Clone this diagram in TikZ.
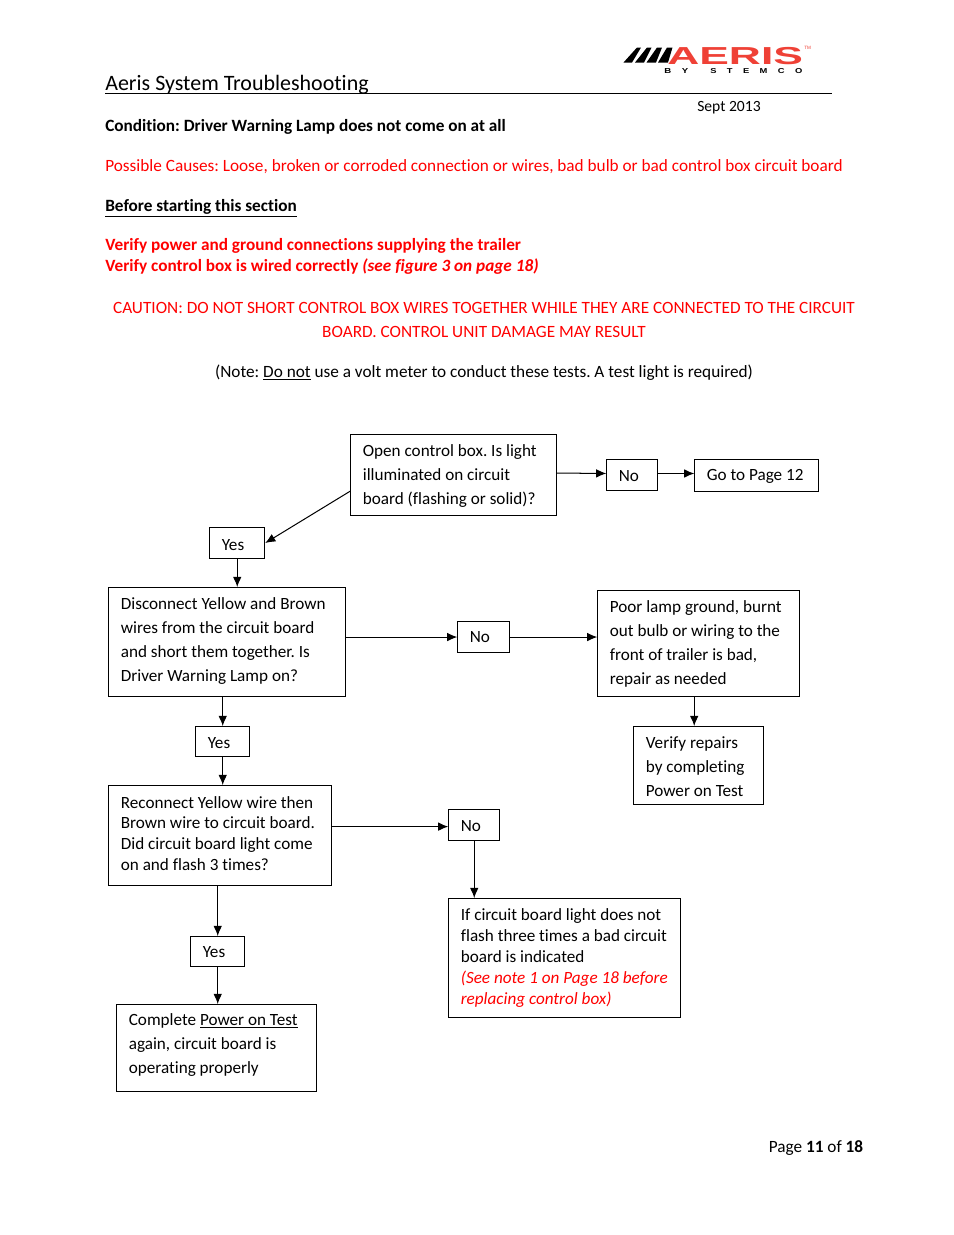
\documentclass[tikz,border=0pt]{standalone}
\usepackage{fontspec}
\setmainfont{Carlito}[Ligatures=NoCommon]
\newfontfamily\logofont{Liberation Sans}
\usetikzlibrary{arrows}
\usetikzlibrary{arrows.meta}
\def\px{0.6415pt}
\definecolor{logored}{HTML}{EF4136}
\tikzset{
  every node/.style={font=\fontsize{11.05}{14}\selectfont\frenchspacing},
  flowbox/.style 2 args={draw=black,line width=0.7pt,anchor=north west,align=left,xshift=-0.45pt,
    font=\fontsize{11}{14}\selectfont\frenchspacing,
    execute at begin node={\spaceskip=0pt\xspaceskip=0pt},
    inner xsep=7.7pt,inner ysep=0pt,minimum width=(#1+0.8)*\px,minimum height=#2*\px,text width=(#1+0.8)*\px-15.4pt},
  widelines/.style={font=\fontsize{11}{15.4}\selectfont\frenchspacing},
  closelines/.style={font=\fontsize{11}{13.4}\selectfont\frenchspacing},
  textdrop/.style={execute at begin node={\rule{0pt}{\dimexpr 7pt+#1\relax}}},
  textlift/.style={execute at end node={\par\vspace*{#1}}},
  flowarrow/.style={-{Latex[length=6.5pt,width=5.5pt]},line width=0.65pt,black},
  pagetext/.style={anchor=base west,inner sep=0pt},
  pagecentre/.style={anchor=base,inner sep=0pt},
  cautiontext/.style={pagecentre,red}
}
\begin{document}
\begin{tikzpicture}[x=0.6415pt,y=-0.6415pt]
    \useasboundingbox (0,0) rectangle (954,1235);
    % Header
    \node[pagetext,font=\fontsize{14.1}{16}\selectfont] (title) at (105,90) {Aeris System Troubleshooting};
    \draw[line width=0.6pt,black] (105,93.5) to (832,93.5);
    \node[pagetext,font=\fontsize{10}{12}\selectfont] (date) at (697,111) {Sept 2013};
    % Logo
    \foreach \i in {0,1,2,3}
        \fill[black] (623.5+\i*11.5,62.5) -- (632+\i*12,62.5) -- (641+\i*10.5,47.5) -- (637+\i*10,47.5) -- cycle;
    \node[inner sep=0pt,anchor=north west,text=logored] (logoname) at (667,47) {\resizebox{87pt}{11pt}{\logofont\bfseries AERIS}};
    \node[inner sep=0pt,anchor=west,text=logored,font=\logofont\fontsize{3}{3}\selectfont] (logotm) at (804,48) {TM};
    \node[inner sep=0pt,anchor=north west] (logoby) at (664,68.5) {\resizebox{15.4pt}{3.2pt}{\logofont\bfseries B\ \ \ \ Y}};
    \node[inner sep=0pt,anchor=north west] (logostemco) at (710,68.5) {\resizebox{59pt}{3.2pt}{\logofont\bfseries S\ \ \ \ T\ \ \ \ E\ \ \ \ M\ \ \ \ C\ \ \ \ O}};
    % Page text
    \node[pagetext] (condition) at (105,131) {\textbf{Condition: Driver Warning Lamp does not come on at all}};
    \node[pagetext,red] (causes) at (105,171) {Possible Causes: Loose, broken or corroded connection or wires, bad bulb or bad control box circuit board};
    \node[pagetext] (before) at (105,211) {\textbf{\underline{Before starting this section}}};
    \node[pagetext,red] (verifya) at (105,250) {\textbf{Verify power and ground connections supplying the trailer}};
    \node[pagetext,red] (verifyb) at (105,271) {\textbf{Verify control box is wired correctly \textit{(see figure 3 on page 18)}}};
    \node[cautiontext] (cautiona) at (484,313) {CAUTION: DO NOT SHORT CONTROL BOX WIRES TOGETHER WHILE THEY ARE CONNECTED TO THE CIRCUIT};
    \node[cautiontext] (cautionb) at (484,337) {BOARD. CONTROL UNIT DAMAGE MAY RESULT};
    \node[pagecentre] (note) at (484,377) {(Note: \underline{Do not} use a volt meter to conduct these tests. A test light is required)};
    \node[anchor=base east,inner sep=0pt] (pagenum) at (863.5,1152) {Page \textbf{11} of \textbf{18}};
    % Boxes
    \node[flowbox={205}{81},widelines,textdrop=1.9pt] (open) at (351,434) {Open control box. Is light\\illuminated on circuit\\board (flashing or solid)?};
    \node[flowbox={50}{31},textdrop=1.3pt] (noa) at (607,459) {No};
    \node[flowbox={123}{32},textdrop=1.3pt] (gopage) at (695,459) {Go to Page 12};
    \node[flowbox={54}{31},textdrop=2.6pt] (yesa) at (210,527) {Yes};
    \node[flowbox={236}{109},widelines,textlift=1.3pt] (disconnect) at (109,587) {Disconnect Yellow and Brown\\wires from the circuit board\\and short them together. Is\\Driver Warning Lamp on?};
    \node[flowbox={51}{31}] (nob) at (458,621) {No};
    \node[flowbox={201}{106},widelines] (poor) at (598,590) {Poor lamp ground, burnt\\out bulb or wiring to the\\front of trailer is bad,\\repair as needed};
    \node[flowbox={53}{30},textdrop=2.6pt] (yesb) at (196,726) {Yes};
    \node[flowbox={129}{78},widelines,textdrop=2.6pt] (repairs) at (634,726) {Verify repairs\\by completing\\Power on Test};
    \node[flowbox={222}{100},closelines,textlift=2.6pt] (reconnect) at (109,785) {Reconnect Yellow wire then\\Brown wire to circuit board.\\Did circuit board light come\\on and flash 3 times?};
    \node[flowbox={50}{31},textdrop=1.3pt] (noc) at (449,809) {No};
    \node[flowbox={53}{30},textdrop=1.3pt] (yesc) at (191,936) {Yes};
    \node[flowbox={231}{119},closelines] (badboard) at (449,898) {If circuit board light does not\\flash three times a bad circuit\\board is indicated\\\textcolor{red}{\textit{(See note 1 on Page 18 before}}\\\textcolor{red}{\textit{replacing control box)}}};
    \node[flowbox={199}{87},widelines,textlift=3.9pt] (complete) at (117,1004) {Complete \underline{Power on Test}\\again, circuit board is\\operating properly};
    % Connectors
    \draw[flowarrow] ([yshift=1.3pt]open.east) to ([yshift=1pt]noa.west);
    \draw[flowarrow] ([yshift=1pt]noa.east) to ([yshift=1pt]noa.east -| gopage.west);
    \draw[flowarrow] ([yshift=-10.3pt]open.west) to (yesa.east);
    \draw[flowarrow] (yesa.south) to (yesa.south |- disconnect.north);
    \draw[flowarrow] (disconnect.east |- nob.west) to (nob.west);
    \draw[flowarrow] (nob.east) to (nob.east -| poor.west);
    \draw[flowarrow] ([xshift=-2.9pt]poor.south) to ([xshift=-2.9pt]repairs.north);
    \draw[flowarrow] (yesb.north |- disconnect.south) to (yesb.north);
    \draw[flowarrow] (yesb.south) to (yesb.south |- reconnect.north);
    \draw[flowarrow] ([yshift=-1pt]reconnect.east |- noc.west) to ([yshift=-1pt]noc.west);
    \draw[flowarrow] (noc.south) to (noc.south |- badboard.north);
    \draw[flowarrow] (yesc.north |- reconnect.south) to (yesc.north);
    \draw[flowarrow] (yesc.south) to (yesc.south |- complete.north);
\end{tikzpicture}
\end{document}
